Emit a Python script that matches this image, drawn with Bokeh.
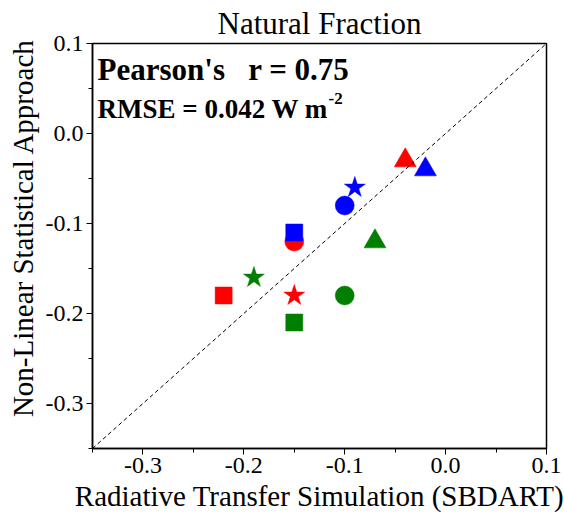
from bokeh.plotting import figure
from bokeh.models import FixedTicker, Label, Slope, Range1d
from bokeh.embed import file_html
from bokeh.resources import INLINE

# ---- data ----
shapes = ["circle", "square", "triangle", "star"]
red_x = [-0.15, -0.22, -0.04, -0.15]
red_y = [-0.12, -0.18, -0.03, -0.18]
green_x = [-0.10, -0.15, -0.07, -0.19]
green_y = [-0.18, -0.21, -0.12, -0.16]
blue_x = [-0.10, -0.15, -0.02, -0.09]
blue_y = [-0.08, -0.11, -0.04, -0.06]

major_ticks = [-0.3, -0.2, -0.1, 0.0, 0.1]
minor_ticks = [-0.35, -0.25, -0.15, -0.05, 0.05]
tick_labels = ["-0.3", "-0.2", "-0.1", "0.0", "0.1"]

title_text = "Natural Fraction"
x_label = "Radiative Transfer Simulation (SBDART)"
y_label = "Non-Linear Statistical Approach"
pearson_text = "Pearson's\u00a0\u00a0\u00a0r = 0.75"
rmse_text = "RMSE = 0.042 W m"
rmse_sup = "-2"

FONT = "Liberation Serif"
X0, X1 = -0.35, 0.1
Y0, Y1 = -0.35, 0.1

p = figure(width=564, height=521, output_backend="svg", toolbar_location=None,
           x_range=Range1d(X0, X1), y_range=Range1d(Y0, Y1),
           min_border_left=92, min_border_right=18, min_border_top=43, min_border_bottom=73)

p.title.text = title_text
p.title.text_font = FONT
p.title.text_font_size = "31px"
p.title.text_font_style = "normal"
p.title.text_color = "black"
p.title.align = "center"
p.title.standoff = 6
p.title.offset = 0

p.background_fill_color = "white"
p.border_fill_color = "white"
p.outline_line_color = "black"
p.outline_line_width = 1.5
p.xgrid.visible = False
p.ygrid.visible = False

overrides = {v: t for v, t in zip(major_ticks, tick_labels)}
for ax in (p.xaxis[0], p.yaxis[0]):
    ax.ticker = FixedTicker(ticks=major_ticks, minor_ticks=minor_ticks)
    ax.major_label_overrides = overrides
    ax.axis_label_text_font = FONT
    ax.axis_label_text_font_size = "29px"
    ax.axis_label_text_font_style = "normal"
    ax.axis_label_text_color = "black"
    ax.major_label_text_font = FONT
    ax.major_label_text_font_size = "24px"
    ax.major_label_text_color = "black"
    ax.axis_line_color = "black"
    ax.axis_line_width = 1.5
    ax.major_tick_line_color = "black"
    ax.minor_tick_line_color = "black"
    ax.major_tick_out = 6
    ax.major_tick_in = 0
    ax.minor_tick_out = 4
    ax.minor_tick_in = 0
    ax.major_label_standoff = 3
    ax.axis_label_standoff = 4

p.xaxis[0].axis_label = x_label
# leading no-break spaces nudge the rotated label slightly above the frame centre, as in the original
p.yaxis[0].axis_label = "\u00a0" * 5 + y_label

p.add_layout(Slope(gradient=1, y_intercept=0, line_color="black", line_width=1, line_dash="4 3"))

for xs, ys, col in ((red_x, red_y, "#FF0000"), (green_x, green_y, "#007F00"), (blue_x, blue_y, "#0000FF")):
    for xv, yv, sh in zip(xs, ys, shapes):
        size = {"circle": 19, "square": 17, "triangle": 22, "star": 22}[sh]
        p.scatter([xv], [yv], marker=sh, size=size, fill_color=col, line_color=col, line_width=0.5)

p.add_layout(Label(x=-0.345, y=0.0712, text=pearson_text, text_font=FONT, text_font_size="31px",
                   text_font_style="bold", text_color="black", text_baseline="alphabetic"))
p.add_layout(Label(x=-0.345, y=0.027, text=rmse_text, text_font=FONT, text_font_size="27px",
                   text_font_style="bold", text_color="black", text_baseline="alphabetic"))
p.add_layout(Label(x=-0.345, y=0.027, x_offset=231, y_offset=11, text=rmse_sup, text_font=FONT,
                   text_font_size="17px", text_font_style="bold", text_color="black",
                   text_baseline="alphabetic"))

open("out.html", "w").write(file_html(p, INLINE))
